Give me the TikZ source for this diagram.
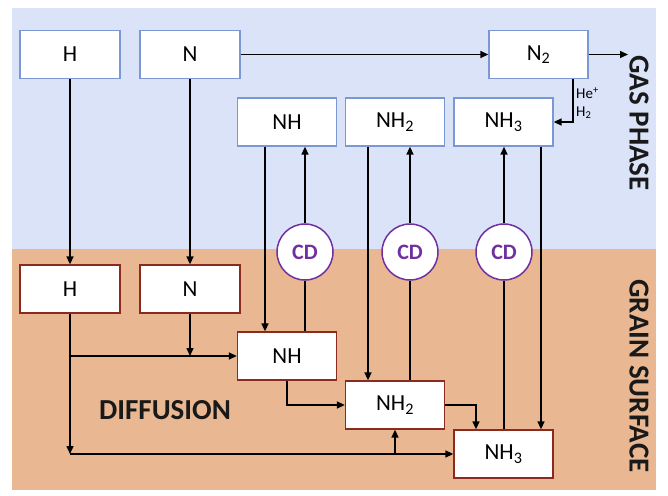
\documentclass[tikz,border=0pt]{standalone}
\usepackage{fontspec}
\setmainfont{Carlito}
\usetikzlibrary{arrows.meta,calc}
\definecolor{gasbg}{HTML}{DAE3F7}
\definecolor{grainbg}{HTML}{E9B893}
\definecolor{gasline}{HTML}{7B98D4}
\definecolor{grainline}{HTML}{8B2A1E}
\definecolor{cdpurple}{HTML}{7030A0}
\newcommand{\sbs}[1]{\textsubscript{#1}}
\tikzset{
  gasbox/.style={draw=gasline,line width=1.3pt,fill=white,minimum width=99pt,minimum height=48pt,inner sep=0pt,font=\fontsize{23}{26}\selectfont},
  grainbox/.style={draw=grainline,line width=1.3pt,fill=white,minimum width=99pt,minimum height=48pt,inner sep=0pt,font=\fontsize{23}{26}\selectfont},
  cdnode/.style={circle,draw=cdpurple,line width=1.5pt,fill=white,minimum size=56pt,inner sep=0pt,text=cdpurple,font=\bfseries\fontsize{22}{24}\selectfont},
  conn/.style={line width=1.4pt,black},
  arr/.style={conn,-{Triangle[length=8pt,width=7pt]}},
  biglabel/.style={font=\bfseries\fontsize{29}{32}\selectfont,text=black!90},
  smalllabel/.style={font=\fontsize{15}{17}\selectfont,anchor=west,inner sep=0pt}
}
\begin{document}
\begin{tikzpicture}[x=1pt,y=-1pt]
\useasboundingbox (0,0) rectangle (668,495);
\fill[white] (0,0) rectangle (668,495);
\fill[gasbg] (12,8) rectangle (656,249);
\fill[grainbg] (12,249) rectangle (656,490);

% gas phase boxes
\node[gasbox,minimum width=100pt] (gH) at (70,54.5) {H};
\node[gasbox,minimum width=100pt] (gN) at (190,54.5) {N};
\node[gasbox,minimum width=99pt] (gN2) at (538.5,54.5) {N\sbs{2}};
\node[gasbox] (gNH) at (287,122) {NH};
\node[gasbox] (gNH2) at (395,122) {NH\sbs{2}};
\node[gasbox] (gNH3) at (503.5,122) {NH\sbs{3}};

% grain surface boxes
\node[grainbox,minimum width=100pt] (sH) at (70,289) {H};
\node[grainbox,minimum width=100pt] (sN) at (190,289) {N};
\node[grainbox] (sNH) at (287,356) {NH};
\node[grainbox] (sNH2) at (395,405) {NH\sbs{2}};
\node[grainbox] (sNH3) at (503.5,454) {NH\sbs{3}};

% CD circles
\node[cdnode] (cd1) at (305,252) {CD};
\node[cdnode] (cd2) at (410,252) {CD};
\node[cdnode] (cd3) at (504,252) {CD};

% labels
\node[biglabel,rotate=-90] (gas) at (639,123) {GAS PHASE};
\node[biglabel,rotate=-90] (grain) at (639,376) {GRAIN SURFACE};
\node[biglabel] (diff) at (165,410) {DIFFUSION};
\node[smalllabel] (he) at (576,93) {He\textsuperscript{+}};
\node[smalllabel] (h2) at (576,113) {H\sbs{2}};

% gas phase connectors
\coordinate (out) at (628,54.5);
\draw[arr] (gH.south) -- (sH.north);
\draw[arr] (gN.south) -- (sN.north);
\draw[arr] (gN.east) -- (gN2.west);
\draw[arr] (gN2.east) -- (out);
\draw[arr] (gN2.south -| 573,0) |- (gNH3.east);

% NH column
\draw[arr] (gNH.south -| 265,0) -- (sNH.north -| 265,0);
\draw[arr] (cd1.north) -- (gNH.south -| cd1.north);
\draw[conn] (cd1.south) -- (sNH.north -| cd1.south);
% NH2 column
\draw[arr] (gNH2.south -| 368,0) -- (sNH2.north -| 368,0);
\draw[arr] (cd2.north) -- (gNH2.south -| cd2.north);
\draw[conn] (cd2.south) -- (sNH2.north -| cd2.south);
% NH3 column
\draw[arr] (gNH3.south -| 541,0) -- (sNH3.north -| 541,0);
\draw[arr] (cd3.north) -- (gNH3.south -| cd3.north);
\draw[conn] (cd3.south) -- (sNH3.north -| cd3.south);

% grain surface connectors
\coordinate (jA) at (sH.south |- sNH.west);
\coordinate (jB) at (sH.south |- sNH3.west);
\draw[arr] (sH.south) -- (jB);
\draw[arr] (jA) -- (sNH.west);
\draw[arr] (sN.south) -- (sN.south |- sNH.west);
\draw[arr] (jB) -- (sNH3.west);
\draw[arr] (sNH2.south |- sNH3.west) -- (sNH2.south);
\draw[arr] (sNH.south) |- (sNH2.west);
\draw[arr] (sNH2.east) -| (sNH3.north -| 476,0);
\end{tikzpicture}
\end{document}
